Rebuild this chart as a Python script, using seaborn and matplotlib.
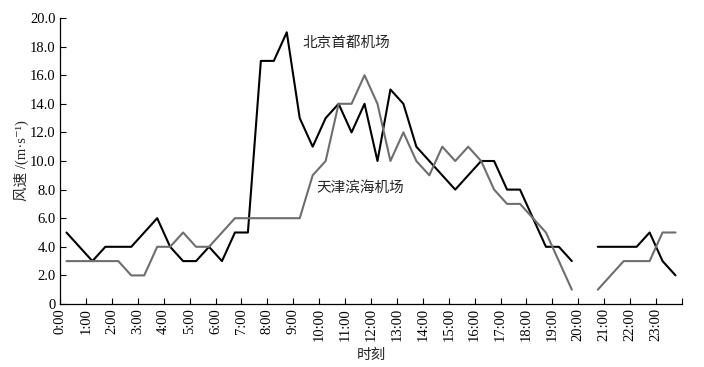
import matplotlib

matplotlib.use("Agg")
import matplotlib.pyplot as plt
import numpy as np
import pandas as pd
import seaborn as sns

# half-hourly wind speed (m/s), NaN = missing observation
beijing = [
    5, 4, 3, 4, 4, 4, 5, 6, 4, 3, 3, 4, 3, 5, 5, 17, 17, 19, 13, 11,
    13, 14, 12, 14, 10, 15, 14, 11, 10, 9, 8, 9, 10, 10, 8, 8, 6, 4, 4, 3,
    np.nan, 4, 4, 4, 4, 5, 3, 2,
]
tianjin = [
    3, 3, 3, 3, 3, 2, 2, 4, 4, 5, 4, 4, 5, 6, 6, 6, 6, 6, 6, 9,
    10, 14, 14, 16, 14, 10, 12, 10, 9, 11, 10, 11, 10, 8, 7, 7, 6, 5, 3, 1,
    np.nan, 1, 2, 3, 3, 3, 5, 5,
]
series_names = ["北京首都机场", "天津滨海机场"]
hour_labels = [f"{h}:00" for h in range(24)]
y_ticks = [0, 2, 4, 6, 8, 10, 12, 14, 16, 18, 20]
y_tick_labels = ["0"] + [f"{v:.1f}" for v in y_ticks[1:]]


def build_frame() -> pd.DataFrame:
    rows = []
    for name, values in zip(series_names, [beijing, tianjin]):
        seg = 0
        for i, v in enumerate(values):
            if np.isnan(v):
                seg += 1
                continue
            rows.append({"x": i + 0.5, "speed": v, "series": name, "seg": seg})
    return pd.DataFrame(rows)


sns.set_style("ticks")
plt.rcParams["font.family"] = ["Liberation Serif", "DejaVu Serif", "Noto Sans CJK SC"]

df = build_frame()

fig = plt.figure(figsize=(7.04, 3.67), dpi=100)
ax = fig.add_axes([60 / 704, 63 / 367, 622 / 704, 286 / 367])

sns.lineplot(
    data=df,
    x="x",
    y="speed",
    hue="series",
    units="seg",
    estimator=None,
    palette={series_names[0]: "#000000", series_names[1]: "#6e6e6e"},
    linewidth=1.5,
    legend=False,
    ax=ax,
)

ax.set_xlim(0, 48)
ax.set_ylim(0, 20)
ax.set_xticks(np.arange(0, 49, 2))
ax.set_xticklabels(hour_labels + [""], rotation=90, fontsize=10.5)
ax.set_yticks(y_ticks)
ax.set_yticklabels(y_tick_labels, fontsize=10.5)
ax.tick_params(direction="in", length=4, width=0.8, colors="black", pad=3)
for side in ["top", "right"]:
    ax.spines[side].set_visible(False)
for side in ["left", "bottom"]:
    ax.spines[side].set_color("black")
    ax.spines[side].set_linewidth(0.9)

ax.set_xlabel("时刻", fontsize=10.5, labelpad=5)
ax.set_ylabel("风速 /(m·s⁻¹)", fontsize=10.5, labelpad=1)

ax.text(18.7, 18.25, series_names[0], fontsize=10.5, va="center", ha="left")
ax.text(19.8, 8.1, series_names[1], fontsize=10.5, va="center", ha="left")

fig.savefig("out.png", dpi=100)
